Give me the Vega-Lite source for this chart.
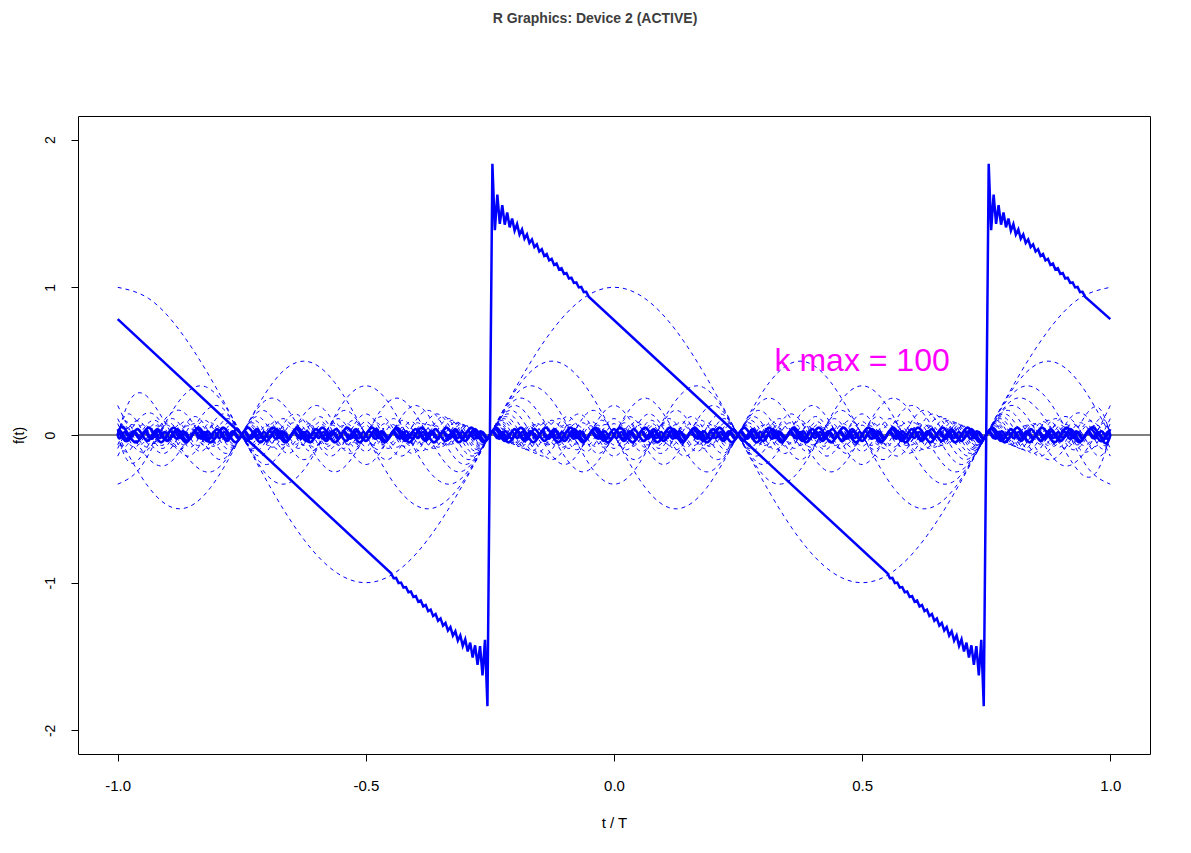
{
"$schema":"https://vega.github.io/schema/vega-lite/v6.json",
"width":1072,"height":638,
"autosize":{"type":"none"},
"padding":{"left":78,"top":116,"right":41,"bottom":99},
"background":"white",
"title":{"text":"R Graphics: Device 2 (ACTIVE)","anchor":"middle","font":"Liberation Sans","fontSize":14,"fontWeight":"bold","color":"#3d3d3d","offset":90,"dx":-19,"frame":"group"},
"config":{"view":{"stroke":"black","strokeWidth":1},"font":"Liberation Sans"},
"datasets":{
"h":[
{"k":1,"t":-1,"y":1},{"k":1,"t":-0.9375,"y":0.924},{"k":1,"t":-0.875,"y":0.707},{"k":1,"t":-0.8125,"y":0.383},{"k":1,"t":-0.75,"y":0},{"k":1,"t":-0.6875,"y":-0.383},{"k":1,"t":-0.625,"y":-0.707},{"k":1,"t":-0.5625,"y":-0.924},{"k":1,"t":-0.5,"y":-1},{"k":1,"t":-0.4375,"y":-0.924},{"k":1,"t":-0.375,"y":-0.707},{"k":1,"t":-0.3125,"y":-0.383},{"k":1,"t":-0.25,"y":0},{"k":1,"t":-0.1875,"y":0.383},{"k":1,"t":-0.125,"y":0.707},{"k":1,"t":-0.0625,"y":0.924},{"k":1,"t":0,"y":1},{"k":1,"t":0.0625,"y":0.924},{"k":1,"t":0.125,"y":0.707},{"k":1,"t":0.1875,"y":0.383},{"k":1,"t":0.25,"y":0},{"k":1,"t":0.3125,"y":-0.383},{"k":1,"t":0.375,"y":-0.707},{"k":1,"t":0.4375,"y":-0.924},{"k":1,"t":0.5,"y":-1},{"k":1,"t":0.5625,"y":-0.924},{"k":1,"t":0.625,"y":-0.707},{"k":1,"t":0.6875,"y":-0.383},{"k":1,"t":0.75,"y":0},{"k":1,"t":0.8125,"y":0.383},{"k":1,"t":0.875,"y":0.707},{"k":1,"t":0.9375,"y":0.924},{"k":1,"t":1,"y":1},
{"k":2,"t":-1,"y":0},{"k":2,"t":-0.9375,"y":-0.354},{"k":2,"t":-0.875,"y":-0.5},{"k":2,"t":-0.8125,"y":-0.354},{"k":2,"t":-0.75,"y":0},{"k":2,"t":-0.6875,"y":0.354},{"k":2,"t":-0.625,"y":0.5},{"k":2,"t":-0.5625,"y":0.354},{"k":2,"t":-0.5,"y":0},{"k":2,"t":-0.4375,"y":-0.354},{"k":2,"t":-0.375,"y":-0.5},{"k":2,"t":-0.3125,"y":-0.354},{"k":2,"t":-0.25,"y":0},{"k":2,"t":-0.1875,"y":0.354},{"k":2,"t":-0.125,"y":0.5},{"k":2,"t":-0.0625,"y":0.354},{"k":2,"t":0,"y":0},{"k":2,"t":0.0625,"y":-0.354},{"k":2,"t":0.125,"y":-0.5},{"k":2,"t":0.1875,"y":-0.354},{"k":2,"t":0.25,"y":0},{"k":2,"t":0.3125,"y":0.354},{"k":2,"t":0.375,"y":0.5},{"k":2,"t":0.4375,"y":0.354},{"k":2,"t":0.5,"y":0},{"k":2,"t":0.5625,"y":-0.354},{"k":2,"t":0.625,"y":-0.5},{"k":2,"t":0.6875,"y":-0.354},{"k":2,"t":0.75,"y":0},{"k":2,"t":0.8125,"y":0.354},{"k":2,"t":0.875,"y":0.5},{"k":2,"t":0.9375,"y":0.354},{"k":2,"t":1,"y":0},
{"k":3,"t":-1,"y":-0.333},{"k":3,"t":-0.958,"y":-0.236},{"k":3,"t":-0.917,"y":0},{"k":3,"t":-0.875,"y":0.236},{"k":3,"t":-0.833,"y":0.333},{"k":3,"t":-0.792,"y":0.236},{"k":3,"t":-0.75,"y":0},{"k":3,"t":-0.708,"y":-0.236},{"k":3,"t":-0.667,"y":-0.333},{"k":3,"t":-0.625,"y":-0.236},{"k":3,"t":-0.583,"y":0},{"k":3,"t":-0.542,"y":0.236},{"k":3,"t":-0.5,"y":0.333},{"k":3,"t":-0.458,"y":0.236},{"k":3,"t":-0.417,"y":0},{"k":3,"t":-0.375,"y":-0.236},{"k":3,"t":-0.333,"y":-0.333},{"k":3,"t":-0.292,"y":-0.236},{"k":3,"t":-0.25,"y":0},{"k":3,"t":-0.208,"y":0.236},{"k":3,"t":-0.167,"y":0.333},{"k":3,"t":-0.125,"y":0.236},{"k":3,"t":-0.083,"y":0},{"k":3,"t":-0.042,"y":-0.236},{"k":3,"t":0,"y":-0.333},{"k":3,"t":0.042,"y":-0.236},{"k":3,"t":0.083,"y":0},{"k":3,"t":0.125,"y":0.236},{"k":3,"t":0.167,"y":0.333},{"k":3,"t":0.208,"y":0.236},{"k":3,"t":0.25,"y":0},{"k":3,"t":0.292,"y":-0.236},{"k":3,"t":0.333,"y":-0.333},{"k":3,"t":0.375,"y":-0.236},{"k":3,"t":0.417,"y":0},{"k":3,"t":0.458,"y":0.236},{"k":3,"t":0.5,"y":0.333},{"k":3,"t":0.542,"y":0.236},{"k":3,"t":0.583,"y":0},{"k":3,"t":0.625,"y":-0.236},{"k":3,"t":0.667,"y":-0.333},{"k":3,"t":0.708,"y":-0.236},{"k":3,"t":0.75,"y":0},{"k":3,"t":0.792,"y":0.236},{"k":3,"t":0.833,"y":0.333},{"k":3,"t":0.875,"y":0.236},{"k":3,"t":0.917,"y":0},{"k":3,"t":0.958,"y":-0.236},{"k":3,"t":1,"y":-0.333},
{"k":4,"t":-1,"y":0},{"k":4,"t":-0.9375,"y":0.25},{"k":4,"t":-0.8125,"y":-0.25},{"k":4,"t":-0.6875,"y":0.25},{"k":4,"t":-0.5625,"y":-0.25},{"k":4,"t":-0.4375,"y":0.25},{"k":4,"t":-0.3125,"y":-0.25},{"k":4,"t":-0.1875,"y":0.25},{"k":4,"t":-0.0625,"y":-0.25},{"k":4,"t":0.0625,"y":0.25},{"k":4,"t":0.1875,"y":-0.25},{"k":4,"t":0.3125,"y":0.25},{"k":4,"t":0.4375,"y":-0.25},{"k":4,"t":0.5625,"y":0.25},{"k":4,"t":0.6875,"y":-0.25},{"k":4,"t":0.8125,"y":0.25},{"k":4,"t":0.9375,"y":-0.25},{"k":4,"t":1,"y":0},
{"k":5,"t":-1,"y":0.2},{"k":5,"t":-0.9,"y":-0.2},{"k":5,"t":-0.8,"y":0.2},{"k":5,"t":-0.7,"y":-0.2},{"k":5,"t":-0.6,"y":0.2},{"k":5,"t":-0.5,"y":-0.2},{"k":5,"t":-0.4,"y":0.2},{"k":5,"t":-0.3,"y":-0.2},{"k":5,"t":-0.2,"y":0.2},{"k":5,"t":-0.1,"y":-0.2},{"k":5,"t":0,"y":0.2},{"k":5,"t":0.1,"y":-0.2},{"k":5,"t":0.2,"y":0.2},{"k":5,"t":0.3,"y":-0.2},{"k":5,"t":0.4,"y":0.2},{"k":5,"t":0.5,"y":-0.2},{"k":5,"t":0.6,"y":0.2},{"k":5,"t":0.7,"y":-0.2},{"k":5,"t":0.8,"y":0.2},{"k":5,"t":0.9,"y":-0.2},{"k":5,"t":1,"y":0.2},
{"k":6,"t":-1,"y":0},{"k":6,"t":-0.958,"y":-0.167},{"k":6,"t":-0.875,"y":0.167},{"k":6,"t":-0.792,"y":-0.167},{"k":6,"t":-0.708,"y":0.167},{"k":6,"t":-0.625,"y":-0.167},{"k":6,"t":-0.542,"y":0.167},{"k":6,"t":-0.458,"y":-0.167},{"k":6,"t":-0.375,"y":0.167},{"k":6,"t":-0.292,"y":-0.167},{"k":6,"t":-0.208,"y":0.167},{"k":6,"t":-0.125,"y":-0.167},{"k":6,"t":-0.042,"y":0.167},{"k":6,"t":0.042,"y":-0.167},{"k":6,"t":0.125,"y":0.167},{"k":6,"t":0.208,"y":-0.167},{"k":6,"t":0.292,"y":0.167},{"k":6,"t":0.375,"y":-0.167},{"k":6,"t":0.458,"y":0.167},{"k":6,"t":0.542,"y":-0.167},{"k":6,"t":0.625,"y":0.167},{"k":6,"t":0.708,"y":-0.167},{"k":6,"t":0.792,"y":0.167},{"k":6,"t":0.875,"y":-0.167},{"k":6,"t":0.958,"y":0.167},{"k":6,"t":1,"y":0},
{"k":7,"t":-1,"y":-0.143},{"k":7,"t":-0.929,"y":0.143},{"k":7,"t":-0.857,"y":-0.143},{"k":7,"t":-0.786,"y":0.143},{"k":7,"t":-0.714,"y":-0.143},{"k":7,"t":-0.643,"y":0.143},{"k":7,"t":-0.571,"y":-0.143},{"k":7,"t":-0.5,"y":0.143},{"k":7,"t":-0.429,"y":-0.143},{"k":7,"t":-0.357,"y":0.143},{"k":7,"t":-0.286,"y":-0.143},{"k":7,"t":-0.214,"y":0.143},{"k":7,"t":-0.143,"y":-0.143},{"k":7,"t":-0.071,"y":0.143},{"k":7,"t":0,"y":-0.143},{"k":7,"t":0.071,"y":0.143},{"k":7,"t":0.143,"y":-0.143},{"k":7,"t":0.214,"y":0.143},{"k":7,"t":0.286,"y":-0.143},{"k":7,"t":0.357,"y":0.143},{"k":7,"t":0.429,"y":-0.143},{"k":7,"t":0.5,"y":0.143},{"k":7,"t":0.571,"y":-0.143},{"k":7,"t":0.643,"y":0.143},{"k":7,"t":0.714,"y":-0.143},{"k":7,"t":0.786,"y":0.143},{"k":7,"t":0.857,"y":-0.143},{"k":7,"t":0.929,"y":0.143},{"k":7,"t":1,"y":-0.143},
{"k":8,"t":-1,"y":0},{"k":8,"t":-0.9688,"y":0.125},{"k":8,"t":-0.9063,"y":-0.125},{"k":8,"t":-0.8438,"y":0.125},{"k":8,"t":-0.7813,"y":-0.125},{"k":8,"t":-0.7188,"y":0.125},{"k":8,"t":-0.6563,"y":-0.125},{"k":8,"t":-0.5938,"y":0.125},{"k":8,"t":-0.5313,"y":-0.125},{"k":8,"t":-0.4688,"y":0.125},{"k":8,"t":-0.4063,"y":-0.125},{"k":8,"t":-0.3438,"y":0.125},{"k":8,"t":-0.2813,"y":-0.125},{"k":8,"t":-0.2188,"y":0.125},{"k":8,"t":-0.1563,"y":-0.125},{"k":8,"t":-0.0938,"y":0.125},{"k":8,"t":-0.0313,"y":-0.125},{"k":8,"t":0.0313,"y":0.125},{"k":8,"t":0.0938,"y":-0.125},{"k":8,"t":0.1563,"y":0.125},{"k":8,"t":0.2188,"y":-0.125},{"k":8,"t":0.2813,"y":0.125},{"k":8,"t":0.3438,"y":-0.125},{"k":8,"t":0.4063,"y":0.125},{"k":8,"t":0.4688,"y":-0.125},{"k":8,"t":0.5313,"y":0.125},{"k":8,"t":0.5938,"y":-0.125},{"k":8,"t":0.6563,"y":0.125},{"k":8,"t":0.7188,"y":-0.125},{"k":8,"t":0.7813,"y":0.125},{"k":8,"t":0.8438,"y":-0.125},{"k":8,"t":0.9063,"y":0.125},{"k":8,"t":0.9688,"y":-0.125},{"k":8,"t":1,"y":0},
{"k":9,"t":-1,"y":0.111},{"k":9,"t":-0.944,"y":-0.111},{"k":9,"t":-0.889,"y":0.111},{"k":9,"t":-0.833,"y":-0.111},{"k":9,"t":-0.778,"y":0.111},{"k":9,"t":-0.722,"y":-0.111},{"k":9,"t":-0.667,"y":0.111},{"k":9,"t":-0.611,"y":-0.111},{"k":9,"t":-0.556,"y":0.111},{"k":9,"t":-0.5,"y":-0.111},{"k":9,"t":-0.444,"y":0.111},{"k":9,"t":-0.389,"y":-0.111},{"k":9,"t":-0.333,"y":0.111},{"k":9,"t":-0.278,"y":-0.111},{"k":9,"t":-0.222,"y":0.111},{"k":9,"t":-0.167,"y":-0.111},{"k":9,"t":-0.111,"y":0.111},{"k":9,"t":-0.056,"y":-0.111},{"k":9,"t":0,"y":0.111},{"k":9,"t":0.056,"y":-0.111},{"k":9,"t":0.111,"y":0.111},{"k":9,"t":0.167,"y":-0.111},{"k":9,"t":0.222,"y":0.111},{"k":9,"t":0.278,"y":-0.111},{"k":9,"t":0.333,"y":0.111},{"k":9,"t":0.389,"y":-0.111},{"k":9,"t":0.444,"y":0.111},{"k":9,"t":0.5,"y":-0.111},{"k":9,"t":0.556,"y":0.111},{"k":9,"t":0.611,"y":-0.111},{"k":9,"t":0.667,"y":0.111},{"k":9,"t":0.722,"y":-0.111},{"k":9,"t":0.778,"y":0.111},{"k":9,"t":0.833,"y":-0.111},{"k":9,"t":0.889,"y":0.111},{"k":9,"t":0.944,"y":-0.111},{"k":9,"t":1,"y":0.111},
{"k":10,"t":-1,"y":0},{"k":10,"t":-0.975,"y":-0.1},{"k":10,"t":-0.925,"y":0.1},{"k":10,"t":-0.875,"y":-0.1},{"k":10,"t":-0.825,"y":0.1},{"k":10,"t":-0.775,"y":-0.1},{"k":10,"t":-0.725,"y":0.1},{"k":10,"t":-0.675,"y":-0.1},{"k":10,"t":-0.625,"y":0.1},{"k":10,"t":-0.575,"y":-0.1},{"k":10,"t":-0.525,"y":0.1},{"k":10,"t":-0.475,"y":-0.1},{"k":10,"t":-0.425,"y":0.1},{"k":10,"t":-0.375,"y":-0.1},{"k":10,"t":-0.325,"y":0.1},{"k":10,"t":-0.275,"y":-0.1},{"k":10,"t":-0.225,"y":0.1},{"k":10,"t":-0.175,"y":-0.1},{"k":10,"t":-0.125,"y":0.1},{"k":10,"t":-0.075,"y":-0.1},{"k":10,"t":-0.025,"y":0.1},{"k":10,"t":0.025,"y":-0.1},{"k":10,"t":0.075,"y":0.1},{"k":10,"t":0.125,"y":-0.1},{"k":10,"t":0.175,"y":0.1},{"k":10,"t":0.225,"y":-0.1},{"k":10,"t":0.275,"y":0.1},{"k":10,"t":0.325,"y":-0.1},{"k":10,"t":0.375,"y":0.1},{"k":10,"t":0.425,"y":-0.1},{"k":10,"t":0.475,"y":0.1},{"k":10,"t":0.525,"y":-0.1},{"k":10,"t":0.575,"y":0.1},{"k":10,"t":0.625,"y":-0.1},{"k":10,"t":0.675,"y":0.1},{"k":10,"t":0.725,"y":-0.1},{"k":10,"t":0.775,"y":0.1},{"k":10,"t":0.825,"y":-0.1},{"k":10,"t":0.875,"y":0.1},{"k":10,"t":0.925,"y":-0.1},{"k":10,"t":0.975,"y":0.1},{"k":10,"t":1,"y":0},
{"k":11,"t":-1,"y":-0.091},{"k":11,"t":-0.955,"y":0.091},{"k":11,"t":-0.909,"y":-0.091},{"k":11,"t":-0.864,"y":0.091},{"k":11,"t":-0.818,"y":-0.091},{"k":11,"t":-0.773,"y":0.091},{"k":11,"t":-0.727,"y":-0.091},{"k":11,"t":-0.682,"y":0.091},{"k":11,"t":-0.636,"y":-0.091},{"k":11,"t":-0.591,"y":0.091},{"k":11,"t":-0.545,"y":-0.091},{"k":11,"t":-0.5,"y":0.091},{"k":11,"t":-0.455,"y":-0.091},{"k":11,"t":-0.409,"y":0.091},{"k":11,"t":-0.364,"y":-0.091},{"k":11,"t":-0.318,"y":0.091},{"k":11,"t":-0.273,"y":-0.091},{"k":11,"t":-0.227,"y":0.091},{"k":11,"t":-0.182,"y":-0.091},{"k":11,"t":-0.136,"y":0.091},{"k":11,"t":-0.091,"y":-0.091},{"k":11,"t":-0.045,"y":0.091},{"k":11,"t":0,"y":-0.091},{"k":11,"t":0.045,"y":0.091},{"k":11,"t":0.091,"y":-0.091},{"k":11,"t":0.136,"y":0.091},{"k":11,"t":0.182,"y":-0.091},{"k":11,"t":0.227,"y":0.091},{"k":11,"t":0.273,"y":-0.091},{"k":11,"t":0.318,"y":0.091},{"k":11,"t":0.364,"y":-0.091},{"k":11,"t":0.409,"y":0.091},{"k":11,"t":0.455,"y":-0.091},{"k":11,"t":0.5,"y":0.091},{"k":11,"t":0.545,"y":-0.091},{"k":11,"t":0.591,"y":0.091},{"k":11,"t":0.636,"y":-0.091},{"k":11,"t":0.682,"y":0.091},{"k":11,"t":0.727,"y":-0.091},{"k":11,"t":0.773,"y":0.091},{"k":11,"t":0.818,"y":-0.091},{"k":11,"t":0.864,"y":0.091},{"k":11,"t":0.909,"y":-0.091},{"k":11,"t":0.955,"y":0.091},{"k":11,"t":1,"y":-0.091},
{"k":12,"t":-1,"y":0},{"k":12,"t":-0.979,"y":0.083},{"k":12,"t":-0.938,"y":-0.083},{"k":12,"t":-0.896,"y":0.083},{"k":12,"t":-0.854,"y":-0.083},{"k":12,"t":-0.813,"y":0.083},{"k":12,"t":-0.771,"y":-0.083},{"k":12,"t":-0.729,"y":0.083},{"k":12,"t":-0.688,"y":-0.083},{"k":12,"t":-0.646,"y":0.083},{"k":12,"t":-0.604,"y":-0.083},{"k":12,"t":-0.563,"y":0.083},{"k":12,"t":-0.521,"y":-0.083},{"k":12,"t":-0.479,"y":0.083},{"k":12,"t":-0.438,"y":-0.083},{"k":12,"t":-0.396,"y":0.083},{"k":12,"t":-0.354,"y":-0.083},{"k":12,"t":-0.313,"y":0.083},{"k":12,"t":-0.271,"y":-0.083},{"k":12,"t":-0.229,"y":0.083},{"k":12,"t":-0.188,"y":-0.083},{"k":12,"t":-0.146,"y":0.083},{"k":12,"t":-0.104,"y":-0.083},{"k":12,"t":-0.063,"y":0.083},{"k":12,"t":-0.021,"y":-0.083},{"k":12,"t":0.021,"y":0.083},{"k":12,"t":0.063,"y":-0.083},{"k":12,"t":0.104,"y":0.083},{"k":12,"t":0.146,"y":-0.083},{"k":12,"t":0.188,"y":0.083},{"k":12,"t":0.229,"y":-0.083},{"k":12,"t":0.271,"y":0.083},{"k":12,"t":0.313,"y":-0.083},{"k":12,"t":0.354,"y":0.083},{"k":12,"t":0.396,"y":-0.083},{"k":12,"t":0.438,"y":0.083},{"k":12,"t":0.479,"y":-0.083},{"k":12,"t":0.521,"y":0.083},{"k":12,"t":0.563,"y":-0.083},{"k":12,"t":0.604,"y":0.083},{"k":12,"t":0.646,"y":-0.083},{"k":12,"t":0.688,"y":0.083},{"k":12,"t":0.729,"y":-0.083},{"k":12,"t":0.771,"y":0.083},{"k":12,"t":0.813,"y":-0.083},{"k":12,"t":0.854,"y":0.083},{"k":12,"t":0.896,"y":-0.083},{"k":12,"t":0.938,"y":0.083},{"k":12,"t":0.979,"y":-0.083},{"k":12,"t":1,"y":0},
{"k":13,"t":-1,"y":0.077},{"k":13,"t":-0.962,"y":-0.077},{"k":13,"t":-0.923,"y":0.077},{"k":13,"t":-0.885,"y":-0.077},{"k":13,"t":-0.846,"y":0.077},{"k":13,"t":-0.808,"y":-0.077},{"k":13,"t":-0.769,"y":0.077},{"k":13,"t":-0.731,"y":-0.077},{"k":13,"t":-0.692,"y":0.077},{"k":13,"t":-0.654,"y":-0.077},{"k":13,"t":-0.615,"y":0.077},{"k":13,"t":-0.577,"y":-0.077},{"k":13,"t":-0.538,"y":0.077},{"k":13,"t":-0.5,"y":-0.077},{"k":13,"t":-0.462,"y":0.077},{"k":13,"t":-0.423,"y":-0.077},{"k":13,"t":-0.385,"y":0.077},{"k":13,"t":-0.346,"y":-0.077},{"k":13,"t":-0.308,"y":0.077},{"k":13,"t":-0.269,"y":-0.077},{"k":13,"t":-0.231,"y":0.077},{"k":13,"t":-0.192,"y":-0.077},{"k":13,"t":-0.154,"y":0.077},{"k":13,"t":-0.115,"y":-0.077},{"k":13,"t":-0.077,"y":0.077},{"k":13,"t":-0.038,"y":-0.077},{"k":13,"t":0,"y":0.077},{"k":13,"t":0.038,"y":-0.077},{"k":13,"t":0.077,"y":0.077},{"k":13,"t":0.115,"y":-0.077},{"k":13,"t":0.154,"y":0.077},{"k":13,"t":0.192,"y":-0.077},{"k":13,"t":0.231,"y":0.077},{"k":13,"t":0.269,"y":-0.077},{"k":13,"t":0.308,"y":0.077},{"k":13,"t":0.346,"y":-0.077},{"k":13,"t":0.385,"y":0.077},{"k":13,"t":0.423,"y":-0.077},{"k":13,"t":0.462,"y":0.077},{"k":13,"t":0.5,"y":-0.077},{"k":13,"t":0.538,"y":0.077},{"k":13,"t":0.577,"y":-0.077},{"k":13,"t":0.615,"y":0.077},{"k":13,"t":0.654,"y":-0.077},{"k":13,"t":0.692,"y":0.077},{"k":13,"t":0.731,"y":-0.077},{"k":13,"t":0.769,"y":0.077},{"k":13,"t":0.808,"y":-0.077},{"k":13,"t":0.846,"y":0.077},{"k":13,"t":0.885,"y":-0.077},{"k":13,"t":0.923,"y":0.077},{"k":13,"t":0.962,"y":-0.077},{"k":13,"t":1,"y":0.077},
{"k":14,"t":-1,"y":0},{"k":14,"t":-0.982,"y":-0.071},{"k":14,"t":-0.946,"y":0.071},{"k":14,"t":-0.911,"y":-0.071},{"k":14,"t":-0.875,"y":0.071},{"k":14,"t":-0.839,"y":-0.071},{"k":14,"t":-0.804,"y":0.071},{"k":14,"t":-0.768,"y":-0.071},{"k":14,"t":-0.732,"y":0.071},{"k":14,"t":-0.696,"y":-0.071},{"k":14,"t":-0.661,"y":0.071},{"k":14,"t":-0.625,"y":-0.071},{"k":14,"t":-0.589,"y":0.071},{"k":14,"t":-0.554,"y":-0.071},{"k":14,"t":-0.518,"y":0.071},{"k":14,"t":-0.482,"y":-0.071},{"k":14,"t":-0.446,"y":0.071},{"k":14,"t":-0.411,"y":-0.071},{"k":14,"t":-0.375,"y":0.071},{"k":14,"t":-0.339,"y":-0.071},{"k":14,"t":-0.304,"y":0.071},{"k":14,"t":-0.268,"y":-0.071},{"k":14,"t":-0.232,"y":0.071},{"k":14,"t":-0.196,"y":-0.071},{"k":14,"t":-0.161,"y":0.071},{"k":14,"t":-0.125,"y":-0.071},{"k":14,"t":-0.089,"y":0.071},{"k":14,"t":-0.054,"y":-0.071},{"k":14,"t":-0.018,"y":0.071},{"k":14,"t":0.018,"y":-0.071},{"k":14,"t":0.054,"y":0.071},{"k":14,"t":0.089,"y":-0.071},{"k":14,"t":0.125,"y":0.071},{"k":14,"t":0.161,"y":-0.071},{"k":14,"t":0.196,"y":0.071},{"k":14,"t":0.232,"y":-0.071},{"k":14,"t":0.268,"y":0.071},{"k":14,"t":0.304,"y":-0.071},{"k":14,"t":0.339,"y":0.071},{"k":14,"t":0.375,"y":-0.071},{"k":14,"t":0.411,"y":0.071},{"k":14,"t":0.446,"y":-0.071},{"k":14,"t":0.482,"y":0.071},{"k":14,"t":0.518,"y":-0.071},{"k":14,"t":0.554,"y":0.071},{"k":14,"t":0.589,"y":-0.071},{"k":14,"t":0.625,"y":0.071},{"k":14,"t":0.661,"y":-0.071},{"k":14,"t":0.696,"y":0.071},{"k":14,"t":0.732,"y":-0.071},{"k":14,"t":0.768,"y":0.071},{"k":14,"t":0.804,"y":-0.071},{"k":14,"t":0.839,"y":0.071},{"k":14,"t":0.875,"y":-0.071},{"k":14,"t":0.911,"y":0.071},{"k":14,"t":0.946,"y":-0.071},{"k":14,"t":0.982,"y":0.071},{"k":14,"t":1,"y":0},
{"k":15,"t":-1,"y":-0.067},{"k":15,"t":-0.967,"y":0.067},{"k":15,"t":-0.933,"y":-0.067},{"k":15,"t":-0.9,"y":0.067},{"k":15,"t":-0.867,"y":-0.067},{"k":15,"t":-0.833,"y":0.067},{"k":15,"t":-0.8,"y":-0.067},{"k":15,"t":-0.767,"y":0.067},{"k":15,"t":-0.733,"y":-0.067},{"k":15,"t":-0.7,"y":0.067},{"k":15,"t":-0.667,"y":-0.067},{"k":15,"t":-0.633,"y":0.067},{"k":15,"t":-0.6,"y":-0.067},{"k":15,"t":-0.567,"y":0.067},{"k":15,"t":-0.533,"y":-0.067},{"k":15,"t":-0.5,"y":0.067},{"k":15,"t":-0.467,"y":-0.067},{"k":15,"t":-0.433,"y":0.067},{"k":15,"t":-0.4,"y":-0.067},{"k":15,"t":-0.367,"y":0.067},{"k":15,"t":-0.333,"y":-0.067},{"k":15,"t":-0.3,"y":0.067},{"k":15,"t":-0.267,"y":-0.067},{"k":15,"t":-0.233,"y":0.067},{"k":15,"t":-0.2,"y":-0.067},{"k":15,"t":-0.167,"y":0.067},{"k":15,"t":-0.133,"y":-0.067},{"k":15,"t":-0.1,"y":0.067},{"k":15,"t":-0.067,"y":-0.067},{"k":15,"t":-0.033,"y":0.067},{"k":15,"t":0,"y":-0.067},{"k":15,"t":0.033,"y":0.067},{"k":15,"t":0.067,"y":-0.067},{"k":15,"t":0.1,"y":0.067},{"k":15,"t":0.133,"y":-0.067},{"k":15,"t":0.167,"y":0.067},{"k":15,"t":0.2,"y":-0.067},{"k":15,"t":0.233,"y":0.067},{"k":15,"t":0.267,"y":-0.067},{"k":15,"t":0.3,"y":0.067},{"k":15,"t":0.333,"y":-0.067},{"k":15,"t":0.367,"y":0.067},{"k":15,"t":0.4,"y":-0.067},{"k":15,"t":0.433,"y":0.067},{"k":15,"t":0.467,"y":-0.067},{"k":15,"t":0.5,"y":0.067},{"k":15,"t":0.533,"y":-0.067},{"k":15,"t":0.567,"y":0.067},{"k":15,"t":0.6,"y":-0.067},{"k":15,"t":0.633,"y":0.067},{"k":15,"t":0.667,"y":-0.067},{"k":15,"t":0.7,"y":0.067},{"k":15,"t":0.733,"y":-0.067},{"k":15,"t":0.767,"y":0.067},{"k":15,"t":0.8,"y":-0.067},{"k":15,"t":0.833,"y":0.067},{"k":15,"t":0.867,"y":-0.067},{"k":15,"t":0.9,"y":0.067},{"k":15,"t":0.933,"y":-0.067},{"k":15,"t":0.967,"y":0.067},{"k":15,"t":1,"y":-0.067},
{"k":16,"t":-1,"y":0},{"k":16,"t":-0.984,"y":0.063},{"k":16,"t":-0.953,"y":-0.063},{"k":16,"t":-0.922,"y":0.063},{"k":16,"t":-0.891,"y":-0.063},{"k":16,"t":-0.859,"y":0.063},{"k":16,"t":-0.828,"y":-0.063},{"k":16,"t":-0.797,"y":0.063},{"k":16,"t":-0.766,"y":-0.063},{"k":16,"t":-0.734,"y":0.063},{"k":16,"t":-0.703,"y":-0.063},{"k":16,"t":-0.672,"y":0.063},{"k":16,"t":-0.641,"y":-0.063},{"k":16,"t":-0.609,"y":0.063},{"k":16,"t":-0.578,"y":-0.063},{"k":16,"t":-0.547,"y":0.063},{"k":16,"t":-0.516,"y":-0.063},{"k":16,"t":-0.484,"y":0.063},{"k":16,"t":-0.453,"y":-0.063},{"k":16,"t":-0.422,"y":0.063},{"k":16,"t":-0.391,"y":-0.063},{"k":16,"t":-0.359,"y":0.063},{"k":16,"t":-0.328,"y":-0.063},{"k":16,"t":-0.297,"y":0.063},{"k":16,"t":-0.266,"y":-0.063},{"k":16,"t":-0.234,"y":0.063},{"k":16,"t":-0.203,"y":-0.063},{"k":16,"t":-0.172,"y":0.063},{"k":16,"t":-0.141,"y":-0.063},{"k":16,"t":-0.109,"y":0.063},{"k":16,"t":-0.078,"y":-0.063},{"k":16,"t":-0.047,"y":0.063},{"k":16,"t":-0.016,"y":-0.063},{"k":16,"t":0.016,"y":0.063},{"k":16,"t":0.047,"y":-0.063},{"k":16,"t":0.078,"y":0.063},{"k":16,"t":0.109,"y":-0.063},{"k":16,"t":0.141,"y":0.063},{"k":16,"t":0.172,"y":-0.063},{"k":16,"t":0.203,"y":0.063},{"k":16,"t":0.234,"y":-0.063},{"k":16,"t":0.266,"y":0.063},{"k":16,"t":0.297,"y":-0.063},{"k":16,"t":0.328,"y":0.063},{"k":16,"t":0.359,"y":-0.063},{"k":16,"t":0.391,"y":0.063},{"k":16,"t":0.422,"y":-0.063},{"k":16,"t":0.453,"y":0.063},{"k":16,"t":0.484,"y":-0.063},{"k":16,"t":0.516,"y":0.063},{"k":16,"t":0.547,"y":-0.063},{"k":16,"t":0.578,"y":0.063},{"k":16,"t":0.609,"y":-0.063},{"k":16,"t":0.641,"y":0.063},{"k":16,"t":0.672,"y":-0.063},{"k":16,"t":0.703,"y":0.063},{"k":16,"t":0.734,"y":-0.063},{"k":16,"t":0.766,"y":0.063},{"k":16,"t":0.797,"y":-0.063},{"k":16,"t":0.828,"y":0.063},{"k":16,"t":0.859,"y":-0.063},{"k":16,"t":0.891,"y":0.063},{"k":16,"t":0.922,"y":-0.063},{"k":16,"t":0.953,"y":0.063},{"k":16,"t":0.984,"y":-0.063},{"k":16,"t":1,"y":0}
],
"b":[
{"k":20,"t":-1,"y":0},{"k":20,"t":-0.9875,"y":0.05},{"k":20,"t":-0.9625,"y":-0.05},{"k":20,"t":-0.9375,"y":0.05},{"k":20,"t":-0.9125,"y":-0.05},{"k":20,"t":-0.8875,"y":0.05},{"k":20,"t":-0.8625,"y":-0.05},{"k":20,"t":-0.8375,"y":0.05},{"k":20,"t":-0.8125,"y":-0.05},{"k":20,"t":-0.7875,"y":0.05},{"k":20,"t":-0.7625,"y":-0.05},{"k":20,"t":-0.7375,"y":0.05},{"k":20,"t":-0.7125,"y":-0.05},{"k":20,"t":-0.6875,"y":0.05},{"k":20,"t":-0.6625,"y":-0.05},{"k":20,"t":-0.6375,"y":0.05},{"k":20,"t":-0.6125,"y":-0.05},{"k":20,"t":-0.5875,"y":0.05},{"k":20,"t":-0.5625,"y":-0.05},{"k":20,"t":-0.5375,"y":0.05},{"k":20,"t":-0.5125,"y":-0.05},{"k":20,"t":-0.4875,"y":0.05},{"k":20,"t":-0.4625,"y":-0.05},{"k":20,"t":-0.4375,"y":0.05},{"k":20,"t":-0.4125,"y":-0.05},{"k":20,"t":-0.3875,"y":0.05},{"k":20,"t":-0.3625,"y":-0.05},{"k":20,"t":-0.3375,"y":0.05},{"k":20,"t":-0.3125,"y":-0.05},{"k":20,"t":-0.2875,"y":0.05},{"k":20,"t":-0.2625,"y":-0.05},{"k":20,"t":-0.2375,"y":0.05},{"k":20,"t":-0.2125,"y":-0.05},{"k":20,"t":-0.1875,"y":0.05},{"k":20,"t":-0.1625,"y":-0.05},{"k":20,"t":-0.1375,"y":0.05},{"k":20,"t":-0.1125,"y":-0.05},{"k":20,"t":-0.0875,"y":0.05},{"k":20,"t":-0.0625,"y":-0.05},{"k":20,"t":-0.0375,"y":0.05},{"k":20,"t":-0.0125,"y":-0.05},{"k":20,"t":0.0125,"y":0.05},{"k":20,"t":0.0375,"y":-0.05},{"k":20,"t":0.0625,"y":0.05},{"k":20,"t":0.0875,"y":-0.05},{"k":20,"t":0.1125,"y":0.05},{"k":20,"t":0.1375,"y":-0.05},{"k":20,"t":0.1625,"y":0.05},{"k":20,"t":0.1875,"y":-0.05},{"k":20,"t":0.2125,"y":0.05},{"k":20,"t":0.2375,"y":-0.05},{"k":20,"t":0.2625,"y":0.05},{"k":20,"t":0.2875,"y":-0.05},{"k":20,"t":0.3125,"y":0.05},{"k":20,"t":0.3375,"y":-0.05},{"k":20,"t":0.3625,"y":0.05},{"k":20,"t":0.3875,"y":-0.05},{"k":20,"t":0.4125,"y":0.05},{"k":20,"t":0.4375,"y":-0.05},{"k":20,"t":0.4625,"y":0.05},{"k":20,"t":0.4875,"y":-0.05},{"k":20,"t":0.5125,"y":0.05},{"k":20,"t":0.5375,"y":-0.05},{"k":20,"t":0.5625,"y":0.05},{"k":20,"t":0.5875,"y":-0.05},{"k":20,"t":0.6125,"y":0.05},{"k":20,"t":0.6375,"y":-0.05},{"k":20,"t":0.6625,"y":0.05},{"k":20,"t":0.6875,"y":-0.05},{"k":20,"t":0.7125,"y":0.05},{"k":20,"t":0.7375,"y":-0.05},{"k":20,"t":0.7625,"y":0.05},{"k":20,"t":0.7875,"y":-0.05},{"k":20,"t":0.8125,"y":0.05},{"k":20,"t":0.8375,"y":-0.05},{"k":20,"t":0.8625,"y":0.05},{"k":20,"t":0.8875,"y":-0.05},{"k":20,"t":0.9125,"y":0.05},{"k":20,"t":0.9375,"y":-0.05},{"k":20,"t":0.9625,"y":0.05},{"k":20,"t":0.9875,"y":-0.05},{"k":20,"t":1,"y":0},
{"k":25,"t":-1,"y":0.04},{"k":25,"t":-0.98,"y":-0.04},{"k":25,"t":-0.96,"y":0.04},{"k":25,"t":-0.94,"y":-0.04},{"k":25,"t":-0.92,"y":0.04},{"k":25,"t":-0.9,"y":-0.04},{"k":25,"t":-0.88,"y":0.04},{"k":25,"t":-0.86,"y":-0.04},{"k":25,"t":-0.84,"y":0.04},{"k":25,"t":-0.82,"y":-0.04},{"k":25,"t":-0.8,"y":0.04},{"k":25,"t":-0.78,"y":-0.04},{"k":25,"t":-0.76,"y":0.04},{"k":25,"t":-0.74,"y":-0.04},{"k":25,"t":-0.72,"y":0.04},{"k":25,"t":-0.7,"y":-0.04},{"k":25,"t":-0.68,"y":0.04},{"k":25,"t":-0.66,"y":-0.04},{"k":25,"t":-0.64,"y":0.04},{"k":25,"t":-0.62,"y":-0.04},{"k":25,"t":-0.6,"y":0.04},{"k":25,"t":-0.58,"y":-0.04},{"k":25,"t":-0.56,"y":0.04},{"k":25,"t":-0.54,"y":-0.04},{"k":25,"t":-0.52,"y":0.04},{"k":25,"t":-0.5,"y":-0.04},{"k":25,"t":-0.48,"y":0.04},{"k":25,"t":-0.46,"y":-0.04},{"k":25,"t":-0.44,"y":0.04},{"k":25,"t":-0.42,"y":-0.04},{"k":25,"t":-0.4,"y":0.04},{"k":25,"t":-0.38,"y":-0.04},{"k":25,"t":-0.36,"y":0.04},{"k":25,"t":-0.34,"y":-0.04},{"k":25,"t":-0.32,"y":0.04},{"k":25,"t":-0.3,"y":-0.04},{"k":25,"t":-0.28,"y":0.04},{"k":25,"t":-0.26,"y":-0.04},{"k":25,"t":-0.24,"y":0.04},{"k":25,"t":-0.22,"y":-0.04},{"k":25,"t":-0.2,"y":0.04},{"k":25,"t":-0.18,"y":-0.04},{"k":25,"t":-0.16,"y":0.04},{"k":25,"t":-0.14,"y":-0.04},{"k":25,"t":-0.12,"y":0.04},{"k":25,"t":-0.1,"y":-0.04},{"k":25,"t":-0.08,"y":0.04},{"k":25,"t":-0.06,"y":-0.04},{"k":25,"t":-0.04,"y":0.04},{"k":25,"t":-0.02,"y":-0.04},{"k":25,"t":0,"y":0.04},{"k":25,"t":0.02,"y":-0.04},{"k":25,"t":0.04,"y":0.04},{"k":25,"t":0.06,"y":-0.04},{"k":25,"t":0.08,"y":0.04},{"k":25,"t":0.1,"y":-0.04},{"k":25,"t":0.12,"y":0.04},{"k":25,"t":0.14,"y":-0.04},{"k":25,"t":0.16,"y":0.04},{"k":25,"t":0.18,"y":-0.04},{"k":25,"t":0.2,"y":0.04},{"k":25,"t":0.22,"y":-0.04},{"k":25,"t":0.24,"y":0.04},{"k":25,"t":0.26,"y":-0.04},{"k":25,"t":0.28,"y":0.04},{"k":25,"t":0.3,"y":-0.04},{"k":25,"t":0.32,"y":0.04},{"k":25,"t":0.34,"y":-0.04},{"k":25,"t":0.36,"y":0.04},{"k":25,"t":0.38,"y":-0.04},{"k":25,"t":0.4,"y":0.04},{"k":25,"t":0.42,"y":-0.04},{"k":25,"t":0.44,"y":0.04},{"k":25,"t":0.46,"y":-0.04},{"k":25,"t":0.48,"y":0.04},{"k":25,"t":0.5,"y":-0.04},{"k":25,"t":0.52,"y":0.04},{"k":25,"t":0.54,"y":-0.04},{"k":25,"t":0.56,"y":0.04},{"k":25,"t":0.58,"y":-0.04},{"k":25,"t":0.6,"y":0.04},{"k":25,"t":0.62,"y":-0.04},{"k":25,"t":0.64,"y":0.04},{"k":25,"t":0.66,"y":-0.04},{"k":25,"t":0.68,"y":0.04},{"k":25,"t":0.7,"y":-0.04},{"k":25,"t":0.72,"y":0.04},{"k":25,"t":0.74,"y":-0.04},{"k":25,"t":0.76,"y":0.04},{"k":25,"t":0.78,"y":-0.04},{"k":25,"t":0.8,"y":0.04},{"k":25,"t":0.82,"y":-0.04},{"k":25,"t":0.84,"y":0.04},{"k":25,"t":0.86,"y":-0.04},{"k":25,"t":0.88,"y":0.04},{"k":25,"t":0.9,"y":-0.04},{"k":25,"t":0.92,"y":0.04},{"k":25,"t":0.94,"y":-0.04},{"k":25,"t":0.96,"y":0.04},{"k":25,"t":0.98,"y":-0.04},{"k":25,"t":1,"y":0.04},
{"k":40,"t":-1,"y":0},{"k":40,"t":-0.99375,"y":0.025},{"k":40,"t":-0.98125,"y":-0.025},{"k":40,"t":-0.96875,"y":0.025},{"k":40,"t":-0.95625,"y":-0.025},{"k":40,"t":-0.94375,"y":0.025},{"k":40,"t":-0.93125,"y":-0.025},{"k":40,"t":-0.91875,"y":0.025},{"k":40,"t":-0.90625,"y":-0.025},{"k":40,"t":-0.89375,"y":0.025},{"k":40,"t":-0.88125,"y":-0.025},{"k":40,"t":-0.86875,"y":0.025},{"k":40,"t":-0.85625,"y":-0.025},{"k":40,"t":-0.84375,"y":0.025},{"k":40,"t":-0.83125,"y":-0.025},{"k":40,"t":-0.81875,"y":0.025},{"k":40,"t":-0.80625,"y":-0.025},{"k":40,"t":-0.79375,"y":0.025},{"k":40,"t":-0.78125,"y":-0.025},{"k":40,"t":-0.76875,"y":0.025},{"k":40,"t":-0.75625,"y":-0.025},{"k":40,"t":-0.74375,"y":0.025},{"k":40,"t":-0.73125,"y":-0.025},{"k":40,"t":-0.71875,"y":0.025},{"k":40,"t":-0.70625,"y":-0.025},{"k":40,"t":-0.69375,"y":0.025},{"k":40,"t":-0.68125,"y":-0.025},{"k":40,"t":-0.66875,"y":0.025},{"k":40,"t":-0.65625,"y":-0.025},{"k":40,"t":-0.64375,"y":0.025},{"k":40,"t":-0.63125,"y":-0.025},{"k":40,"t":-0.61875,"y":0.025},{"k":40,"t":-0.60625,"y":-0.025},{"k":40,"t":-0.59375,"y":0.025},{"k":40,"t":-0.58125,"y":-0.025},{"k":40,"t":-0.56875,"y":0.025},{"k":40,"t":-0.55625,"y":-0.025},{"k":40,"t":-0.54375,"y":0.025},{"k":40,"t":-0.53125,"y":-0.025},{"k":40,"t":-0.51875,"y":0.025},{"k":40,"t":-0.50625,"y":-0.025},{"k":40,"t":-0.49375,"y":0.025},{"k":40,"t":-0.48125,"y":-0.025},{"k":40,"t":-0.46875,"y":0.025},{"k":40,"t":-0.45625,"y":-0.025},{"k":40,"t":-0.44375,"y":0.025},{"k":40,"t":-0.43125,"y":-0.025},{"k":40,"t":-0.41875,"y":0.025},{"k":40,"t":-0.40625,"y":-0.025},{"k":40,"t":-0.39375,"y":0.025},{"k":40,"t":-0.38125,"y":-0.025},{"k":40,"t":-0.36875,"y":0.025},{"k":40,"t":-0.35625,"y":-0.025},{"k":40,"t":-0.34375,"y":0.025},{"k":40,"t":-0.33125,"y":-0.025},{"k":40,"t":-0.31875,"y":0.025},{"k":40,"t":-0.30625,"y":-0.025},{"k":40,"t":-0.29375,"y":0.025},{"k":40,"t":-0.28125,"y":-0.025},{"k":40,"t":-0.26875,"y":0.025},{"k":40,"t":-0.25625,"y":-0.025},{"k":40,"t":-0.24375,"y":0.025},{"k":40,"t":-0.23125,"y":-0.025},{"k":40,"t":-0.21875,"y":0.025},{"k":40,"t":-0.20625,"y":-0.025},{"k":40,"t":-0.19375,"y":0.025},{"k":40,"t":-0.18125,"y":-0.025},{"k":40,"t":-0.16875,"y":0.025},{"k":40,"t":-0.15625,"y":-0.025},{"k":40,"t":-0.14375,"y":0.025},{"k":40,"t":-0.13125,"y":-0.025},{"k":40,"t":-0.11875,"y":0.025},{"k":40,"t":-0.10625,"y":-0.025},{"k":40,"t":-0.09375,"y":0.025},{"k":40,"t":-0.08125,"y":-0.025},{"k":40,"t":-0.06875,"y":0.025},{"k":40,"t":-0.05625,"y":-0.025},{"k":40,"t":-0.04375,"y":0.025},{"k":40,"t":-0.03125,"y":-0.025},{"k":40,"t":-0.01875,"y":0.025},{"k":40,"t":-0.00625,"y":-0.025},{"k":40,"t":0.00625,"y":0.025},{"k":40,"t":0.01875,"y":-0.025},{"k":40,"t":0.03125,"y":0.025},{"k":40,"t":0.04375,"y":-0.025},{"k":40,"t":0.05625,"y":0.025},{"k":40,"t":0.06875,"y":-0.025},{"k":40,"t":0.08125,"y":0.025},{"k":40,"t":0.09375,"y":-0.025},{"k":40,"t":0.10625,"y":0.025},{"k":40,"t":0.11875,"y":-0.025},{"k":40,"t":0.13125,"y":0.025},{"k":40,"t":0.14375,"y":-0.025},{"k":40,"t":0.15625,"y":0.025},{"k":40,"t":0.16875,"y":-0.025},{"k":40,"t":0.18125,"y":0.025},{"k":40,"t":0.19375,"y":-0.025},{"k":40,"t":0.20625,"y":0.025},{"k":40,"t":0.21875,"y":-0.025},{"k":40,"t":0.23125,"y":0.025},{"k":40,"t":0.24375,"y":-0.025},{"k":40,"t":0.25625,"y":0.025},{"k":40,"t":0.26875,"y":-0.025},{"k":40,"t":0.28125,"y":0.025},{"k":40,"t":0.29375,"y":-0.025},{"k":40,"t":0.30625,"y":0.025},{"k":40,"t":0.31875,"y":-0.025},{"k":40,"t":0.33125,"y":0.025},{"k":40,"t":0.34375,"y":-0.025},{"k":40,"t":0.35625,"y":0.025},{"k":40,"t":0.36875,"y":-0.025},{"k":40,"t":0.38125,"y":0.025},{"k":40,"t":0.39375,"y":-0.025},{"k":40,"t":0.40625,"y":0.025},{"k":40,"t":0.41875,"y":-0.025},{"k":40,"t":0.43125,"y":0.025},{"k":40,"t":0.44375,"y":-0.025},{"k":40,"t":0.45625,"y":0.025},{"k":40,"t":0.46875,"y":-0.025},{"k":40,"t":0.48125,"y":0.025},{"k":40,"t":0.49375,"y":-0.025},{"k":40,"t":0.50625,"y":0.025},{"k":40,"t":0.51875,"y":-0.025},{"k":40,"t":0.53125,"y":0.025},{"k":40,"t":0.54375,"y":-0.025},{"k":40,"t":0.55625,"y":0.025},{"k":40,"t":0.56875,"y":-0.025},{"k":40,"t":0.58125,"y":0.025},{"k":40,"t":0.59375,"y":-0.025},{"k":40,"t":0.60625,"y":0.025},{"k":40,"t":0.61875,"y":-0.025},{"k":40,"t":0.63125,"y":0.025},{"k":40,"t":0.64375,"y":-0.025},{"k":40,"t":0.65625,"y":0.025},{"k":40,"t":0.66875,"y":-0.025},{"k":40,"t":0.68125,"y":0.025},{"k":40,"t":0.69375,"y":-0.025},{"k":40,"t":0.70625,"y":0.025},{"k":40,"t":0.71875,"y":-0.025},{"k":40,"t":0.73125,"y":0.025},{"k":40,"t":0.74375,"y":-0.025},{"k":40,"t":0.75625,"y":0.025},{"k":40,"t":0.76875,"y":-0.025},{"k":40,"t":0.78125,"y":0.025},{"k":40,"t":0.79375,"y":-0.025},{"k":40,"t":0.80625,"y":0.025},{"k":40,"t":0.81875,"y":-0.025},{"k":40,"t":0.83125,"y":0.025},{"k":40,"t":0.84375,"y":-0.025},{"k":40,"t":0.85625,"y":0.025},{"k":40,"t":0.86875,"y":-0.025},{"k":40,"t":0.88125,"y":0.025},{"k":40,"t":0.89375,"y":-0.025},{"k":40,"t":0.90625,"y":0.025},{"k":40,"t":0.91875,"y":-0.025},{"k":40,"t":0.93125,"y":0.025},{"k":40,"t":0.94375,"y":-0.025},{"k":40,"t":0.95625,"y":0.025},{"k":40,"t":0.96875,"y":-0.025},{"k":40,"t":0.98125,"y":0.025},{"k":40,"t":0.99375,"y":-0.025},{"k":40,"t":1,"y":0},
{"k":50,"t":-1,"y":0},{"k":50,"t":-0.995,"y":-0.02},{"k":50,"t":-0.985,"y":0.02},{"k":50,"t":-0.975,"y":-0.02},{"k":50,"t":-0.965,"y":0.02},{"k":50,"t":-0.955,"y":-0.02},{"k":50,"t":-0.945,"y":0.02},{"k":50,"t":-0.935,"y":-0.02},{"k":50,"t":-0.925,"y":0.02},{"k":50,"t":-0.915,"y":-0.02},{"k":50,"t":-0.905,"y":0.02},{"k":50,"t":-0.895,"y":-0.02},{"k":50,"t":-0.885,"y":0.02},{"k":50,"t":-0.875,"y":-0.02},{"k":50,"t":-0.865,"y":0.02},{"k":50,"t":-0.855,"y":-0.02},{"k":50,"t":-0.845,"y":0.02},{"k":50,"t":-0.835,"y":-0.02},{"k":50,"t":-0.825,"y":0.02},{"k":50,"t":-0.815,"y":-0.02},{"k":50,"t":-0.805,"y":0.02},{"k":50,"t":-0.795,"y":-0.02},{"k":50,"t":-0.785,"y":0.02},{"k":50,"t":-0.775,"y":-0.02},{"k":50,"t":-0.765,"y":0.02},{"k":50,"t":-0.755,"y":-0.02},{"k":50,"t":-0.745,"y":0.02},{"k":50,"t":-0.735,"y":-0.02},{"k":50,"t":-0.725,"y":0.02},{"k":50,"t":-0.715,"y":-0.02},{"k":50,"t":-0.705,"y":0.02},{"k":50,"t":-0.695,"y":-0.02},{"k":50,"t":-0.685,"y":0.02},{"k":50,"t":-0.675,"y":-0.02},{"k":50,"t":-0.665,"y":0.02},{"k":50,"t":-0.655,"y":-0.02},{"k":50,"t":-0.645,"y":0.02},{"k":50,"t":-0.635,"y":-0.02},{"k":50,"t":-0.625,"y":0.02},{"k":50,"t":-0.615,"y":-0.02},{"k":50,"t":-0.605,"y":0.02},{"k":50,"t":-0.595,"y":-0.02},{"k":50,"t":-0.585,"y":0.02},{"k":50,"t":-0.575,"y":-0.02},{"k":50,"t":-0.565,"y":0.02},{"k":50,"t":-0.555,"y":-0.02},{"k":50,"t":-0.545,"y":0.02},{"k":50,"t":-0.535,"y":-0.02},{"k":50,"t":-0.525,"y":0.02},{"k":50,"t":-0.515,"y":-0.02},{"k":50,"t":-0.505,"y":0.02},{"k":50,"t":-0.495,"y":-0.02},{"k":50,"t":-0.485,"y":0.02},{"k":50,"t":-0.475,"y":-0.02},{"k":50,"t":-0.465,"y":0.02},{"k":50,"t":-0.455,"y":-0.02},{"k":50,"t":-0.445,"y":0.02},{"k":50,"t":-0.435,"y":-0.02},{"k":50,"t":-0.425,"y":0.02},{"k":50,"t":-0.415,"y":-0.02},{"k":50,"t":-0.405,"y":0.02},{"k":50,"t":-0.395,"y":-0.02},{"k":50,"t":-0.385,"y":0.02},{"k":50,"t":-0.375,"y":-0.02},{"k":50,"t":-0.365,"y":0.02},{"k":50,"t":-0.355,"y":-0.02},{"k":50,"t":-0.345,"y":0.02},{"k":50,"t":-0.335,"y":-0.02},{"k":50,"t":-0.325,"y":0.02},{"k":50,"t":-0.315,"y":-0.02},{"k":50,"t":-0.305,"y":0.02},{"k":50,"t":-0.295,"y":-0.02},{"k":50,"t":-0.285,"y":0.02},{"k":50,"t":-0.275,"y":-0.02},{"k":50,"t":-0.265,"y":0.02},{"k":50,"t":-0.255,"y":-0.02},{"k":50,"t":-0.245,"y":0.02},{"k":50,"t":-0.235,"y":-0.02},{"k":50,"t":-0.225,"y":0.02},{"k":50,"t":-0.215,"y":-0.02},{"k":50,"t":-0.205,"y":0.02},{"k":50,"t":-0.195,"y":-0.02},{"k":50,"t":-0.185,"y":0.02},{"k":50,"t":-0.175,"y":-0.02},{"k":50,"t":-0.165,"y":0.02},{"k":50,"t":-0.155,"y":-0.02},{"k":50,"t":-0.145,"y":0.02},{"k":50,"t":-0.135,"y":-0.02},{"k":50,"t":-0.125,"y":0.02},{"k":50,"t":-0.115,"y":-0.02},{"k":50,"t":-0.105,"y":0.02},{"k":50,"t":-0.095,"y":-0.02},{"k":50,"t":-0.085,"y":0.02},{"k":50,"t":-0.075,"y":-0.02},{"k":50,"t":-0.065,"y":0.02},{"k":50,"t":-0.055,"y":-0.02},{"k":50,"t":-0.045,"y":0.02},{"k":50,"t":-0.035,"y":-0.02},{"k":50,"t":-0.025,"y":0.02},{"k":50,"t":-0.015,"y":-0.02},{"k":50,"t":-0.005,"y":0.02},{"k":50,"t":0.005,"y":-0.02},{"k":50,"t":0.015,"y":0.02},{"k":50,"t":0.025,"y":-0.02},{"k":50,"t":0.035,"y":0.02},{"k":50,"t":0.045,"y":-0.02},{"k":50,"t":0.055,"y":0.02},{"k":50,"t":0.065,"y":-0.02},{"k":50,"t":0.075,"y":0.02},{"k":50,"t":0.085,"y":-0.02},{"k":50,"t":0.095,"y":0.02},{"k":50,"t":0.105,"y":-0.02},{"k":50,"t":0.115,"y":0.02},{"k":50,"t":0.125,"y":-0.02},{"k":50,"t":0.135,"y":0.02},{"k":50,"t":0.145,"y":-0.02},{"k":50,"t":0.155,"y":0.02},{"k":50,"t":0.165,"y":-0.02},{"k":50,"t":0.175,"y":0.02},{"k":50,"t":0.185,"y":-0.02},{"k":50,"t":0.195,"y":0.02},{"k":50,"t":0.205,"y":-0.02},{"k":50,"t":0.215,"y":0.02},{"k":50,"t":0.225,"y":-0.02},{"k":50,"t":0.235,"y":0.02},{"k":50,"t":0.245,"y":-0.02},{"k":50,"t":0.255,"y":0.02},{"k":50,"t":0.265,"y":-0.02},{"k":50,"t":0.275,"y":0.02},{"k":50,"t":0.285,"y":-0.02},{"k":50,"t":0.295,"y":0.02},{"k":50,"t":0.305,"y":-0.02},{"k":50,"t":0.315,"y":0.02},{"k":50,"t":0.325,"y":-0.02},{"k":50,"t":0.335,"y":0.02},{"k":50,"t":0.345,"y":-0.02},{"k":50,"t":0.355,"y":0.02},{"k":50,"t":0.365,"y":-0.02},{"k":50,"t":0.375,"y":0.02},{"k":50,"t":0.385,"y":-0.02},{"k":50,"t":0.395,"y":0.02},{"k":50,"t":0.405,"y":-0.02},{"k":50,"t":0.415,"y":0.02},{"k":50,"t":0.425,"y":-0.02},{"k":50,"t":0.435,"y":0.02},{"k":50,"t":0.445,"y":-0.02},{"k":50,"t":0.455,"y":0.02},{"k":50,"t":0.465,"y":-0.02},{"k":50,"t":0.475,"y":0.02},{"k":50,"t":0.485,"y":-0.02},{"k":50,"t":0.495,"y":0.02},{"k":50,"t":0.505,"y":-0.02},{"k":50,"t":0.515,"y":0.02},{"k":50,"t":0.525,"y":-0.02},{"k":50,"t":0.535,"y":0.02},{"k":50,"t":0.545,"y":-0.02},{"k":50,"t":0.555,"y":0.02},{"k":50,"t":0.565,"y":-0.02},{"k":50,"t":0.575,"y":0.02},{"k":50,"t":0.585,"y":-0.02},{"k":50,"t":0.595,"y":0.02},{"k":50,"t":0.605,"y":-0.02},{"k":50,"t":0.615,"y":0.02},{"k":50,"t":0.625,"y":-0.02},{"k":50,"t":0.635,"y":0.02},{"k":50,"t":0.645,"y":-0.02},{"k":50,"t":0.655,"y":0.02},{"k":50,"t":0.665,"y":-0.02},{"k":50,"t":0.675,"y":0.02},{"k":50,"t":0.685,"y":-0.02},{"k":50,"t":0.695,"y":0.02},{"k":50,"t":0.705,"y":-0.02},{"k":50,"t":0.715,"y":0.02},{"k":50,"t":0.725,"y":-0.02},{"k":50,"t":0.735,"y":0.02},{"k":50,"t":0.745,"y":-0.02},{"k":50,"t":0.755,"y":0.02},{"k":50,"t":0.765,"y":-0.02},{"k":50,"t":0.775,"y":0.02},{"k":50,"t":0.785,"y":-0.02},{"k":50,"t":0.795,"y":0.02},{"k":50,"t":0.805,"y":-0.02},{"k":50,"t":0.815,"y":0.02},{"k":50,"t":0.825,"y":-0.02},{"k":50,"t":0.835,"y":0.02},{"k":50,"t":0.845,"y":-0.02},{"k":50,"t":0.855,"y":0.02},{"k":50,"t":0.865,"y":-0.02},{"k":50,"t":0.875,"y":0.02},{"k":50,"t":0.885,"y":-0.02},{"k":50,"t":0.895,"y":0.02},{"k":50,"t":0.905,"y":-0.02},{"k":50,"t":0.915,"y":0.02},{"k":50,"t":0.925,"y":-0.02},{"k":50,"t":0.935,"y":0.02},{"k":50,"t":0.945,"y":-0.02},{"k":50,"t":0.955,"y":0.02},{"k":50,"t":0.965,"y":-0.02},{"k":50,"t":0.975,"y":0.02},{"k":50,"t":0.985,"y":-0.02},{"k":50,"t":0.995,"y":0.02},{"k":50,"t":1,"y":0}
],
"s":[
{"t":-1,"y":0.785},{"t":-0.449,"y":-0.937},{"t":-0.44403,"y":-0.970},{"t":-0.43905,"y":-0.968},{"t":-0.43408,"y":-1.002},{"t":-0.4291,"y":-0.999},{"t":-0.42413,"y":-1.033},{"t":-0.41915,"y":-1.030},{"t":-0.41418,"y":-1.065},{"t":-0.4092,"y":-1.060},{"t":-0.40423,"y":-1.097},{"t":-0.39925,"y":-1.091},{"t":-0.39428,"y":-1.129},{"t":-0.3893,"y":-1.121},{"t":-0.38433,"y":-1.161},{"t":-0.37935,"y":-1.152},{"t":-0.37438,"y":-1.193},{"t":-0.3694,"y":-1.182},{"t":-0.36443,"y":-1.225},{"t":-0.35945,"y":-1.212},{"t":-0.35448,"y":-1.258},{"t":-0.3495,"y":-1.242},{"t":-0.34453,"y":-1.291},{"t":-0.33955,"y":-1.272},{"t":-0.33458,"y":-1.324},{"t":-0.3296,"y":-1.301},{"t":-0.32463,"y":-1.358},{"t":-0.31965,"y":-1.329},{"t":-0.31468,"y":-1.392},{"t":-0.3097,"y":-1.357},{"t":-0.30473,"y":-1.428},{"t":-0.29975,"y":-1.383},{"t":-0.29478,"y":-1.466},{"t":-0.2898,"y":-1.406},{"t":-0.28483,"y":-1.507},{"t":-0.27985,"y":-1.424},{"t":-0.27488,"y":-1.556},{"t":-0.2699,"y":-1.430},{"t":-0.26493,"y":-1.628},{"t":-0.25995,"y":-1.387},{"t":-0.25498,"y":-1.836},{"t":-0.25,"y":0},
{"t":-0.24502,"y":1.836},{"t":-0.24005,"y":1.387},{"t":-0.23507,"y":1.628},{"t":-0.2301,"y":1.430},{"t":-0.22512,"y":1.556},{"t":-0.22015,"y":1.424},{"t":-0.21517,"y":1.507},{"t":-0.2102,"y":1.406},{"t":-0.20522,"y":1.466},{"t":-0.20025,"y":1.383},{"t":-0.19527,"y":1.428},{"t":-0.1903,"y":1.357},{"t":-0.18532,"y":1.392},{"t":-0.18035,"y":1.329},{"t":-0.17537,"y":1.358},{"t":-0.1704,"y":1.301},{"t":-0.16542,"y":1.324},{"t":-0.16045,"y":1.272},{"t":-0.15547,"y":1.291},{"t":-0.1505,"y":1.242},{"t":-0.14552,"y":1.258},{"t":-0.14055,"y":1.212},{"t":-0.13557,"y":1.225},{"t":-0.1306,"y":1.182},{"t":-0.12562,"y":1.193},{"t":-0.12065,"y":1.152},{"t":-0.11567,"y":1.161},{"t":-0.1107,"y":1.121},{"t":-0.10572,"y":1.129},{"t":-0.10075,"y":1.091},{"t":-0.09577,"y":1.097},{"t":-0.0908,"y":1.060},{"t":-0.08582,"y":1.065},{"t":-0.08085,"y":1.030},{"t":-0.07587,"y":1.033},{"t":-0.0709,"y":0.999},{"t":-0.06592,"y":1.002},{"t":-0.06095,"y":0.968},{"t":-0.05597,"y":0.970},{"t":-0.051,"y":0.937},
{"t":0.551,"y":-0.937},{"t":0.55597,"y":-0.970},{"t":0.56095,"y":-0.968},{"t":0.56592,"y":-1.002},{"t":0.5709,"y":-0.999},{"t":0.57587,"y":-1.033},{"t":0.58085,"y":-1.030},{"t":0.58582,"y":-1.065},{"t":0.5908,"y":-1.060},{"t":0.59577,"y":-1.097},{"t":0.60075,"y":-1.091},{"t":0.60572,"y":-1.129},{"t":0.6107,"y":-1.121},{"t":0.61567,"y":-1.161},{"t":0.62065,"y":-1.152},{"t":0.62562,"y":-1.193},{"t":0.6306,"y":-1.182},{"t":0.63557,"y":-1.225},{"t":0.64055,"y":-1.212},{"t":0.64552,"y":-1.258},{"t":0.6505,"y":-1.242},{"t":0.65547,"y":-1.291},{"t":0.66045,"y":-1.272},{"t":0.66542,"y":-1.324},{"t":0.6704,"y":-1.301},{"t":0.67537,"y":-1.358},{"t":0.68035,"y":-1.329},{"t":0.68532,"y":-1.392},{"t":0.6903,"y":-1.357},{"t":0.69527,"y":-1.428},{"t":0.70025,"y":-1.383},{"t":0.70522,"y":-1.466},{"t":0.7102,"y":-1.406},{"t":0.71517,"y":-1.507},{"t":0.72015,"y":-1.424},{"t":0.72512,"y":-1.556},{"t":0.7301,"y":-1.430},{"t":0.73507,"y":-1.628},{"t":0.74005,"y":-1.387},{"t":0.74502,"y":-1.836},{"t":0.75,"y":0},
{"t":0.75498,"y":1.836},{"t":0.75995,"y":1.387},{"t":0.76493,"y":1.628},{"t":0.7699,"y":1.430},{"t":0.77488,"y":1.556},{"t":0.77985,"y":1.424},{"t":0.78483,"y":1.507},{"t":0.7898,"y":1.406},{"t":0.79478,"y":1.466},{"t":0.79975,"y":1.383},{"t":0.80473,"y":1.428},{"t":0.8097,"y":1.357},{"t":0.81468,"y":1.392},{"t":0.81965,"y":1.329},{"t":0.82463,"y":1.358},{"t":0.8296,"y":1.301},{"t":0.83458,"y":1.324},{"t":0.83955,"y":1.272},{"t":0.84453,"y":1.291},{"t":0.8495,"y":1.242},{"t":0.85448,"y":1.258},{"t":0.85945,"y":1.212},{"t":0.86443,"y":1.225},{"t":0.8694,"y":1.182},{"t":0.87438,"y":1.193},{"t":0.87935,"y":1.152},{"t":0.88433,"y":1.161},{"t":0.8893,"y":1.121},{"t":0.89428,"y":1.129},{"t":0.89925,"y":1.091},{"t":0.90423,"y":1.097},{"t":0.9092,"y":1.060},{"t":0.91418,"y":1.065},{"t":0.91915,"y":1.030},{"t":0.92413,"y":1.033},{"t":0.9291,"y":0.999},{"t":0.93408,"y":1.002},{"t":0.93905,"y":0.968},{"t":0.94403,"y":0.970},{"t":0.949,"y":0.937},{"t":1,"y":0.785}
]
},
"encoding":{
"x":{"field":"t","type":"quantitative","scale":{"domain":[-1.08,1.08],"nice":false,"zero":false},
"axis":{"values":[-1,-0.5,0,0.5,1],"labelExpr":"(datum.value<0?'-':'')+format(abs(datum.value),'.1f')","domain":false,"grid":false,"tickSize":7,"tickColor":"black","tickWidth":1,"labelFont":"Liberation Sans","labelFontSize":15,"labelColor":"black","labelPadding":17,"labelFlush":false,"labelOverlap":false,"title":"t / T","titleFont":"Liberation Sans","titleFontSize":15,"titleFontWeight":"normal","titleColor":"black","titlePadding":22}},
"y":{"field":"y","type":"quantitative","scale":{"domain":[-2.16,2.16],"nice":false,"zero":false},
"axis":{"values":[-2,-1,0,1,2],"labelExpr":"(datum.value<0?'-':'')+format(abs(datum.value),'d')","domain":false,"grid":false,"tickSize":7,"tickColor":"black","tickWidth":1,"labelFont":"Liberation Sans","labelFontSize":14,"labelColor":"black","labelAngle":-90,"labelAlign":"center","labelBaseline":"bottom","labelPadding":14,"labelFlush":false,"labelOverlap":false,"title":"f(t)","titleFont":"Liberation Sans","titleFontSize":14,"titleFontWeight":"normal","titleColor":"black","titlePadding":17}}
},
"layer":[
{"data":{"values":[{"t":-1.08,"y":0},{"t":1.08,"y":0}]},"mark":{"type":"line","color":"black","strokeWidth":1}},
{"data":{"name":"h"},"mark":{"type":"line","color":"#0000ff","strokeWidth":1,"strokeDash":[4,4],"interpolate":"natural"},"encoding":{"detail":{"field":"k","type":"nominal"}}},
{"data":{"name":"b"},"mark":{"type":"line","color":"#0000ff","strokeWidth":2.6,"interpolate":"natural"},"encoding":{"detail":{"field":"k","type":"nominal"}}},
{"data":{"name":"s"},"mark":{"type":"line","color":"#0000ff","strokeWidth":2.5}},
{"data":{"values":[{"t":0.5,"y":0.5,"label":"k max = 100"}]},"mark":{"type":"text","color":"#ff00ff","font":"Liberation Sans","fontSize":32,"align":"center","baseline":"middle"},"encoding":{"text":{"field":"label","type":"nominal"}}}
]
}
